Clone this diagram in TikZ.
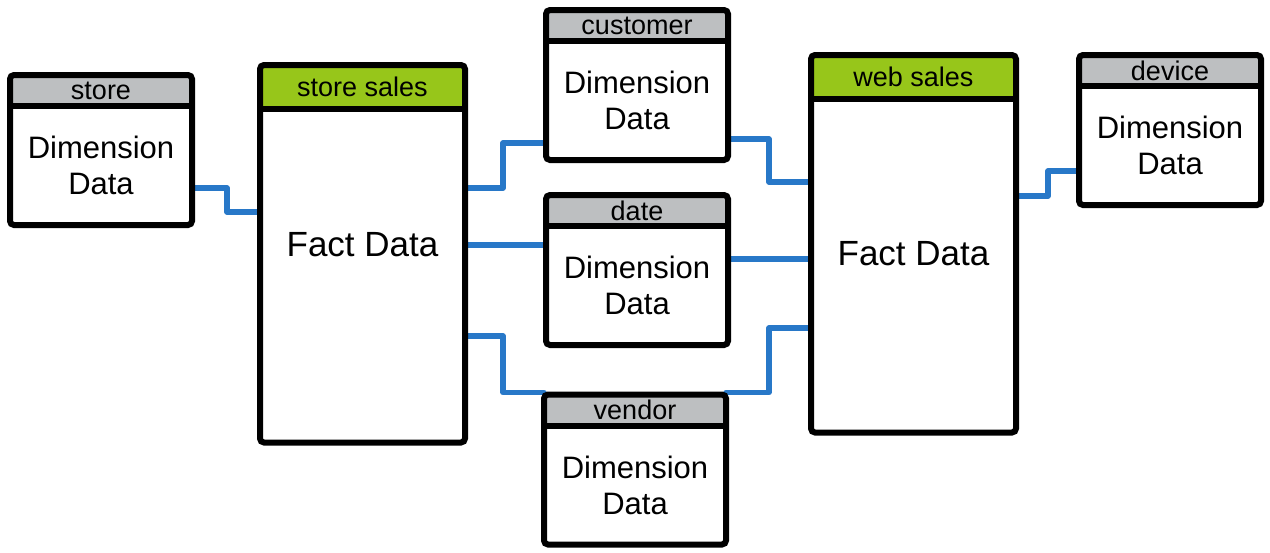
\documentclass[tikz,border=0pt]{standalone}
\usepackage{fontspec}
\setmainfont{Liberation Sans}
\usetikzlibrary{positioning}
\definecolor{headgray}{HTML}{BDBFC1}
\definecolor{headgreen}{HTML}{97C61A}
\definecolor{linkblue}{HTML}{2878C8}
\tikzstyle{dimhead} = [rectangle, 
minimum width=182pt, 
minimum height=31pt, 
inner sep=0pt, 
outer sep=0pt, 
fill=headgray, 
font=\fontsize{27pt}{31pt}\selectfont]
\tikzstyle{facthead} = [dimhead, 
minimum width=205pt, 
minimum height=43.5pt, 
fill=headgreen]
\tikzstyle{dimbody} = [rectangle, 
minimum width=182pt, 
minimum height=119pt, 
inner sep=0pt, 
outer sep=0pt, 
align=center, 
font=\fontsize{31pt}{36pt}\selectfont]
\tikzstyle{factbody} = [dimbody, 
minimum width=205pt, 
minimum height=334pt, 
text height=25pt, 
font=\fontsize{35pt}{40pt}\selectfont]
\tikzstyle{frame} = [line width=6pt, rounded corners=4pt]
\tikzstyle{link} = [line width=5.5pt, draw=linkblue, line cap=round, line join=round]

\begin{document}
\begin{tikzpicture}
			\useasboundingbox (0,0) rectangle (1270pt,-552pt);
			
			\node (store-hd) [dimhead, anchor=north west] at (10pt,-75pt) {store};
			\node (store) [dimbody, below=0pt of store-hd] {Dimension\\Data};
			
			\node (ssales-hd) [facthead, right=68pt of store-hd.north east, anchor=north west, yshift=10pt] {store sales};
			\node (ssales) [factbody, text depth=64pt, below=0pt of ssales-hd] {Fact Data};
			
			\node (cust-hd) [dimhead, right=81pt of ssales-hd.north east, anchor=north west, yshift=55pt] {customer};
			\node (cust) [dimbody, below=0pt of cust-hd] {Dimension\\Data};
			
			\node (date-hd) [dimhead, below=35pt of cust] {date};
			\node (date) [dimbody, below=0pt of date-hd] {Dimension\\Data};
			
			\node (vend-hd) [dimhead, below=49.5pt of date, xshift=-2pt] {vendor};
			\node (vend) [dimbody, below=0pt of vend-hd] {Dimension\\Data};
			
			\node (web-hd) [facthead, right=83pt of cust-hd.north east, anchor=north west, yshift=-45pt] {web sales};
			\node (web) [factbody, text depth=25pt, below=0pt of web-hd] {Fact Data};
			
			\node (dev-hd) [dimhead, right=63pt of web-hd.north east, anchor=north west] {device};
			\node (dev) [dimbody, below=0pt of dev-hd] {Dimension\\Data};
			
			\draw [link] ([yshift=-22.5pt]store.east) -- ++(35pt,0) |- ([yshift=63.5pt]ssales.west);
			\draw [link] ([yshift=87.5pt]ssales.east) -- ++(38pt,0) |- ([yshift=-42.5pt]cust.west);
			\draw [link] ([yshift=30.5pt]ssales.east) -| ([yshift=46.5pt]date.west);
			\draw [link] ([yshift=-60.5pt]ssales.east) -- ++(38pt,0) |- ([yshift=2pt]vend-hd.north west);
			\draw [link] ([yshift=-38.5pt]cust.east) -- ++(41pt,0) |- ([yshift=83.5pt]web.west);
			\draw [link] ([yshift=19.5pt]date.east) |- ([yshift=6.5pt]web.west);
			\draw [link] ([yshift=2pt]vend-hd.north east) -- ++(43pt,0) |- ([yshift=-62.5pt]web.west);
			\draw [link] ([yshift=69.5pt]web.east) -- ++(32pt,0) |- ([yshift=-25.5pt]dev.west);
			
			\foreach \t in {store,ssales,cust,date,vend,web,dev}
			{
				\draw [frame] (\t-hd.north west) rectangle (\t.south east);
				\draw [line width=6pt] (\t-hd.south west) -- (\t-hd.south east);
			}
			
		\end{tikzpicture}
\end{document}
